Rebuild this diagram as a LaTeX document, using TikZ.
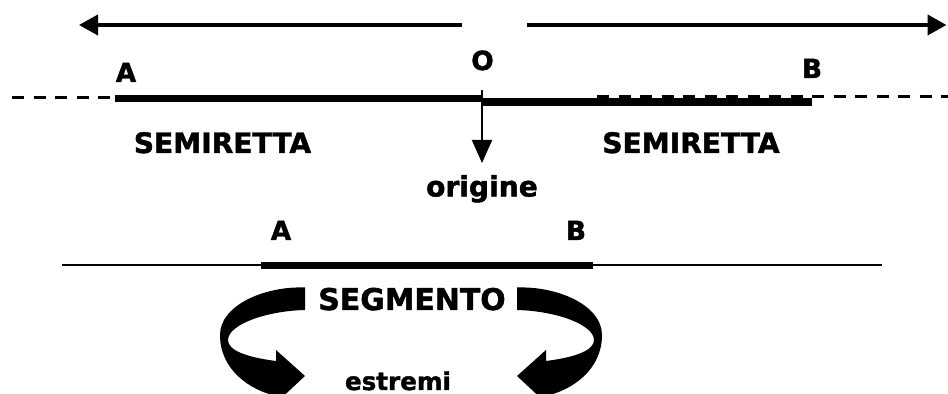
\documentclass[tikz,border=0pt]{standalone}
\usepackage{fontspec}
\setmainfont{DejaVu Sans}[BoldFeatures={FakeBold=1.6}]
\usetikzlibrary{arrows.meta,positioning}

\begin{document}
\begin{tikzpicture}[
        ray/.style={line width=0.14cm},
        thinline/.style={line width=0.04cm},
        dashline/.style={line width=0.06cm, dash pattern=on 0.24cm off 0.19cm},
        direction/.style={line width=0.08cm, -{Triangle[length=0.38cm, width=0.40cm]}},
        pointer/.style={line width=0.04cm, -{Triangle[length=0.46cm, width=0.40cm]}},
        point/.style={font=\fontsize{15}{18}\selectfont\bfseries, anchor=base, inner sep=1pt},
        word/.style={font=\fontsize{16}{19}\selectfont\bfseries, anchor=base, inner sep=1pt},
        bendarrow/.style={fill=black}
    ]
    \clip (0,0) rectangle (18.96,7.88);

    % Directions of the two rays
    \coordinate (leftstart) at (9.24,7.38);
    \coordinate (leftend) at (1.58,7.38);
    \coordinate (rightstart) at (10.54,7.38);
    \coordinate (rightend) at (18.93,7.38);
    \draw[direction] (leftstart) -- (leftend);
    \draw[direction] (rightstart) -- (rightend);

    % Line with the two rays
    \coordinate (lineleft) at (0.24,5.93);
    \coordinate (A) at (2.30,5.90);
    \coordinate (O) at (9.64,5.90);
    \coordinate (Oright) at (9.64,5.84);
    \coordinate (B) at (16.24,5.84);
    \coordinate (dashstart) at (11.94,5.95);
    \coordinate (lineright) at (18.96,5.95);
    \draw[dashline] (lineleft) -- (A |- lineleft);
    \draw[ray] (A) -- (O);
    \draw[ray, line width=0.16cm] (Oright) -- (B);
    \draw[dashline] (dashstart) -- (lineright);

    \node[point] (labelA) at (2.52,6.24) {A};
    \node[point] (labelO) at (9.65,6.48) {O};
    \node[point] (labelB) at (16.24,6.32) {B};
    \node[word] (rayleft) at (4.45,4.82) {SEMIRETTA};
    \node[word] (rayright) at (13.82,4.82) {SEMIRETTA};

    % Origin
    \coordinate (Otop) at (9.64,6.08);
    \coordinate (Otip) at (9.64,4.62);
    \node[word, anchor=north, below=0.2cm of Otip] (origine) {origine};
    \draw[pointer] (Otop) -- (Otip);

    % Segment
    \coordinate (segleft) at (1.24,2.58);
    \coordinate (segright) at (17.64,2.58);
    \coordinate (SA) at (5.22,2.57);
    \coordinate (SB) at (11.86,2.57);
    \draw[thinline] (segleft) -- (segright);
    \draw[ray, line width=0.15cm] (SA) -- (SB);
    \node[point] (segA) at (5.62,3.08) {A};
    \node[point] (segB) at (11.52,3.08) {B};

    \node[word, font=\fontsize{17}{20}\selectfont\bfseries] (segmento) at (8.24,1.68) {SEGMENTO};
    \node[word, font=\fontsize{14}{17}\selectfont\bfseries, inner sep=0pt] (estremi) at (7.96,0.08) {estremi};

    % Curved arrows to the end points
    \begin{scope}
        \fill[bendarrow] (6.10,2.13) .. controls (5.30,2.16) and (4.40,1.78) .. (4.40,1.18)
            .. controls (4.40,0.48) and (5.00,0.08) .. (5.52,-0.04)
            -- (5.52,-0.18) -- (6.10,0.36) -- (5.52,0.88) -- (5.52,0.66)
            .. controls (4.90,0.74) and (4.56,0.88) .. (4.56,1.08)
            .. controls (4.56,1.38) and (5.30,1.66) .. (6.10,1.68) -- cycle;
    \end{scope}
    \begin{scope}[xshift=16.44cm, xscale=-1]
        \fill[bendarrow] (6.10,2.13) .. controls (5.30,2.16) and (4.40,1.78) .. (4.40,1.18)
            .. controls (4.40,0.48) and (5.00,0.08) .. (5.52,-0.04)
            -- (5.52,-0.18) -- (6.10,0.36) -- (5.52,0.88) -- (5.52,0.66)
            .. controls (4.90,0.74) and (4.56,0.88) .. (4.56,1.08)
            .. controls (4.56,1.38) and (5.30,1.66) .. (6.10,1.68) -- cycle;
    \end{scope}

\end{tikzpicture}
\end{document}
